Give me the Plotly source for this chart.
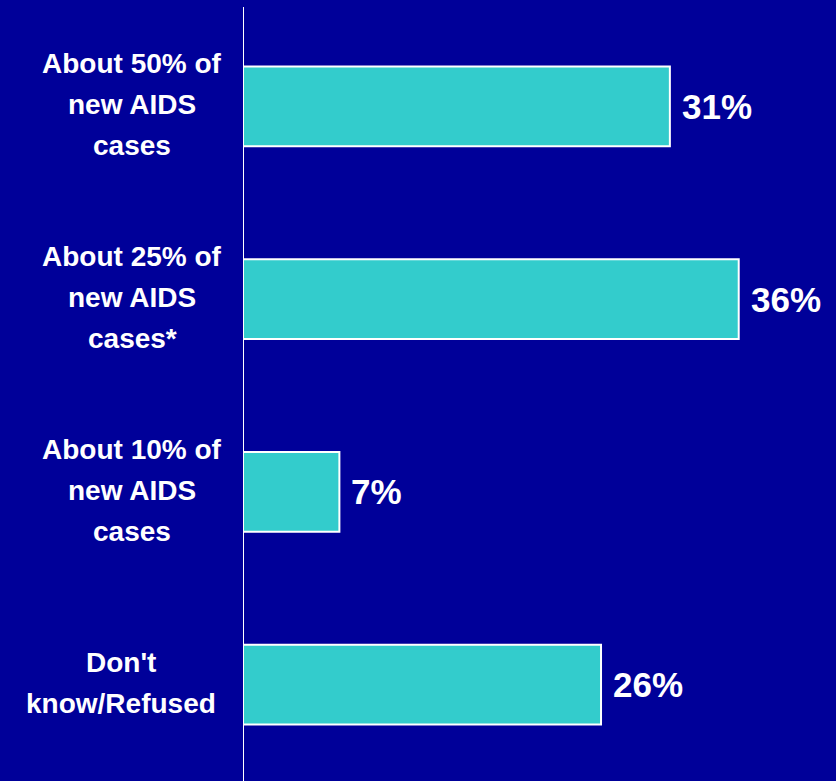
import plotly.graph_objects as go

# Survey responses: share of new AIDS cases
categories = [
    "About 50% of new AIDS cases",
    "About 25% of new AIDS cases*",
    "About 10% of new AIDS cases",
    "Don't know/Refused",
]
label_lines = [
    ["About 50% of", "new AIDS", "cases"],
    ["About 25% of", "new AIDS", "cases*"],
    ["About 10% of", "new AIDS", "cases"],
    ["Don't", "know/Refused"],
]
values = [31, 36, 7, 26]

BG = "#000099"
BAR = "#33CCCC"
W, H = 836, 781
LEFT, TOP = 243, 10
PX_PER_PCT = 13.77
FONT = "Liberation Sans, Arial, sans-serif"

fig = go.Figure(
    go.Bar(
        x=values,
        y=categories,
        orientation="h",
        width=0.415,
        marker=dict(color=BAR, line=dict(color="white", width=2)),
        hoverinfo="skip",
    )
)

annotations = []
# value labels just right of each bar
for cat, v in zip(categories, values):
    annotations.append(dict(
        x=v, y=cat, xref="x", yref="y",
        text=f"<b>{v}%</b>", showarrow=False,
        xanchor="left", yanchor="middle", xshift=10,
        font=dict(family=FONT, size=35, color="white"),
    ))

# category labels, one annotation per line for wider leading
block_center_px = [132, 132, 132, 121]
line_step = 41
for cat, lines, cx in zip(categories, label_lines, block_center_px):
    n = len(lines)
    for i, ln in enumerate(lines):
        offset = (i - (n - 1) / 2) * line_step - 1.5
        annotations.append(dict(
            x=0, y=cat, xref="paper", yref="y",
            text=f"<b>{ln}</b>", showarrow=False,
            xanchor="center", yanchor="middle",
            xshift=cx - LEFT, yshift=-offset,
            font=dict(family=FONT, size=28, color="white"),
        ))

plot_h = H - TOP
fig.update_layout(
    width=W, height=H,
    margin=dict(l=LEFT, r=0, t=TOP, b=0, pad=0),
    paper_bgcolor=BG, plot_bgcolor=BG,
    showlegend=False,
    xaxis=dict(range=[0, (W - LEFT) / PX_PER_PCT], visible=False, fixedrange=True),
    yaxis=dict(type="category", range=[3.5, -0.5], visible=False, fixedrange=True),
    annotations=annotations,
    shapes=[dict(
        type="line", xref="x", yref="paper",
        x0=0, x1=0, y0=-0.01, y1=1 + 3 / plot_h,
        line=dict(color="white", width=2), layer="above",
    )],
)

fig.write_html("out.html", config={"displayModeBar": False})
